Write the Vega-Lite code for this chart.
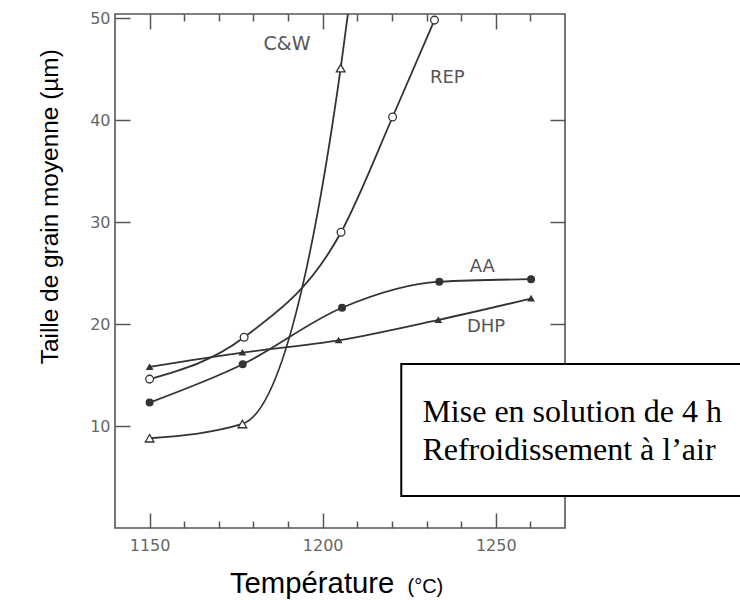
{
  "$schema": "https://vega.github.io/schema/vega-lite/v6.json",
  "width": 450,
  "height": 514,
  "autosize": {"type": "none"},
  "padding": {"left": 115, "top": 14, "right": 175, "bottom": 72},
  "background": "white",
  "config": {
    "view": {"stroke": "#555555", "strokeWidth": 1.6},
    "axis": {"domain": false, "grid": false}
  },
  "datasets": {
    "courbes": [
      {"serie": "C&W", "temperature": 1150, "taille": 8.8, "mesure": true},
      {"serie": "C&W", "temperature": 1176.8, "taille": 10.2, "mesure": true},
      {"serie": "C&W", "temperature": 1205.2, "taille": 45.1, "mesure": true},
      {"serie": "C&W", "temperature": 1208.3, "taille": 53, "mesure": false},
      {"serie": "REP", "temperature": 1150, "taille": 14.6, "mesure": true},
      {"serie": "REP", "temperature": 1177.3, "taille": 18.7, "mesure": true},
      {"serie": "REP", "temperature": 1205.3, "taille": 29, "mesure": true},
      {"serie": "REP", "temperature": 1220.2, "taille": 40.3, "mesure": true},
      {"serie": "REP", "temperature": 1232.3, "taille": 49.8, "mesure": true},
      {"serie": "AA", "temperature": 1150, "taille": 12.3, "mesure": true},
      {"serie": "AA", "temperature": 1176.9, "taille": 16.05, "mesure": true},
      {"serie": "AA", "temperature": 1205.6, "taille": 21.6, "mesure": true},
      {"serie": "AA", "temperature": 1233.7, "taille": 24.15, "mesure": true},
      {"serie": "AA", "temperature": 1260.2, "taille": 24.4, "mesure": true},
      {"serie": "DHP", "temperature": 1150, "taille": 15.8, "mesure": true},
      {"serie": "DHP", "temperature": 1176.8, "taille": 17.2, "mesure": true},
      {"serie": "DHP", "temperature": 1204.6, "taille": 18.4, "mesure": true},
      {"serie": "DHP", "temperature": 1233.4, "taille": 20.4, "mesure": true},
      {"serie": "DHP", "temperature": 1260.2, "taille": 22.5, "mesure": true}
    ],
    "unique": [{}]
  },
  "resolve": {"axis": {"x": "independent", "y": "independent"}},
  "layer": [
    {
      "data": {"name": "courbes"},
      "mark": {"type": "line", "interpolate": "monotone", "clip": true, "stroke": "#333333", "strokeWidth": 1.8},
      "encoding": {
        "x": {
          "field": "temperature", "type": "quantitative",
          "scale": {"domain": [1140, 1270], "nice": false, "zero": false},
          "axis": {
            "orient": "bottom", "title": null, "format": "d",
            "values": [1150, 1160, 1170, 1180, 1190, 1200, 1210, 1220, 1230, 1240, 1250, 1260],
            "labelExpr": "datum.value % 50 === 0 ? datum.label : ''",
            "tickSize": {"condition": {"test": "datum.value % 50 === 0", "value": -15}, "value": -7},
            "tickColor": "#555555", "tickWidth": 1.5,
            "labelPadding": 24, "labelFont": "DejaVu Sans", "labelFontSize": 16, "labelColor": "#666666"
          }
        },
        "y": {
          "field": "taille", "type": "quantitative",
          "scale": {"domain": [0, 50.4], "nice": false, "zero": false},
          "axis": {
            "orient": "left", "title": null,
            "values": [10, 20, 30, 40, 50],
            "tickSize": -15, "tickColor": "#555555", "tickWidth": 1.5,
            "labelPadding": 20, "labelFont": "DejaVu Sans", "labelFontSize": 16, "labelColor": "#666666"
          }
        },
        "detail": {"field": "serie"}
      }
    },
    {
      "data": {"name": "courbes"},
      "transform": [{"filter": "datum.mesure"}],
      "mark": {"type": "point", "filled": true, "stroke": "#333333", "strokeWidth": 1.3, "opacity": 1},
      "encoding": {
        "x": {
          "field": "temperature", "type": "quantitative",
          "axis": {
            "orient": "top", "title": null, "labels": false,
            "values": [1150, 1160, 1170, 1180, 1190, 1200, 1210, 1220, 1230, 1240, 1250, 1260],
            "tickSize": {"condition": {"test": "datum.value % 50 === 0", "value": -15}, "value": -7},
            "tickColor": "#555555", "tickWidth": 1.5
          }
        },
        "y": {
          "field": "taille", "type": "quantitative",
          "axis": {
            "orient": "right", "title": null, "labels": false,
            "values": [20, 30, 40],
            "tickSize": -15, "tickColor": "#555555", "tickWidth": 1.5
          }
        },
        "shape": {"field": "serie", "type": "nominal", "legend": null,
          "scale": {"domain": ["C&W", "REP", "AA", "DHP"], "range": ["triangle-up", "circle", "circle", "triangle-up"]}},
        "fill": {"field": "serie", "type": "nominal", "legend": null,
          "scale": {"domain": ["C&W", "REP", "AA", "DHP"], "range": ["#ffffff", "#ffffff", "#333333", "#333333"]}},
        "size": {"field": "serie", "type": "nominal", "legend": null,
          "scale": {"domain": ["C&W", "REP", "AA", "DHP"], "range": [75, 30, 30, 55]}}
      }
    },
    {
      "data": {"name": "unique"},
      "mark": {"type": "text", "text": "C&W", "font": "DejaVu Sans", "fontSize": 19, "fill": "#555555", "align": "center", "baseline": "middle"},
      "encoding": {"x": {"datum": 1189.7, "type": "quantitative", "axis": null}, "y": {"datum": 47.5, "type": "quantitative", "axis": null}}
    },
    {
      "data": {"name": "unique"},
      "mark": {"type": "text", "text": "REP", "font": "DejaVu Sans", "fontSize": 18, "fill": "#555555", "align": "center", "baseline": "middle"},
      "encoding": {"x": {"datum": 1236, "type": "quantitative", "axis": null}, "y": {"datum": 44.1, "type": "quantitative", "axis": null}}
    },
    {
      "data": {"name": "unique"},
      "mark": {"type": "text", "text": "AA", "font": "DejaVu Sans", "fontSize": 18, "fill": "#555555", "align": "center", "baseline": "middle"},
      "encoding": {"x": {"datum": 1246.1, "type": "quantitative", "axis": null}, "y": {"datum": 25.6, "type": "quantitative", "axis": null}}
    },
    {
      "data": {"name": "unique"},
      "mark": {"type": "text", "text": "DHP", "font": "DejaVu Sans", "fontSize": 18, "fill": "#555555", "align": "center", "baseline": "middle"},
      "encoding": {"x": {"datum": 1247.2, "type": "quantitative", "axis": null}, "y": {"datum": 19.7, "type": "quantitative", "axis": null}}
    },
    {
      "data": {"name": "unique"},
      "mark": {"type": "rect", "fill": "#ffffff", "stroke": "#000000", "strokeWidth": 2, "clip": false},
      "encoding": {
        "x": {"datum": 1222.7, "type": "quantitative", "axis": null},
        "x2": {"datum": 1330},
        "y": {"datum": 16.08, "type": "quantitative", "axis": null},
        "y2": {"datum": 3.14}
      }
    },
    {
      "data": {"name": "unique"},
      "mark": {"type": "text", "text": "Mise en solution de 4 h", "font": "Liberation Serif", "fontSize": 32, "fill": "#000000", "align": "left", "baseline": "alphabetic"},
      "encoding": {"x": {"datum": 1228.8, "type": "quantitative", "axis": null}, "y": {"datum": 10.42, "type": "quantitative", "axis": null}}
    },
    {
      "data": {"name": "unique"},
      "mark": {"type": "text", "text": "Refroidissement à l’air", "font": "Liberation Serif", "fontSize": 32, "fill": "#000000", "align": "left", "baseline": "alphabetic"},
      "encoding": {"x": {"datum": 1228.8, "type": "quantitative", "axis": null}, "y": {"datum": 6.67, "type": "quantitative", "axis": null}}
    },
    {
      "data": {"name": "unique"},
      "mark": {"type": "text", "text": "Température", "font": "Liberation Sans", "fontSize": 29.3, "fill": "#000000", "align": "left", "baseline": "alphabetic"},
      "encoding": {"x": {"datum": 1173.2, "type": "quantitative", "axis": null}, "y": {"datum": -6.37, "type": "quantitative", "axis": null}}
    },
    {
      "data": {"name": "unique"},
      "mark": {"type": "text", "text": "(°C)", "font": "Liberation Sans", "fontSize": 20, "fill": "#000000", "align": "left", "baseline": "alphabetic"},
      "encoding": {"x": {"datum": 1224.5, "type": "quantitative", "axis": null}, "y": {"datum": -6.37, "type": "quantitative", "axis": null}}
    },
    {
      "data": {"name": "unique"},
      "mark": {"type": "text", "text": "Taille de grain moyenne (µm)", "font": "Liberation Sans", "fontSize": 24.4, "fill": "#000000", "align": "center", "baseline": "alphabetic", "angle": 270},
      "encoding": {"x": {"datum": 1123.5, "type": "quantitative", "axis": null}, "y": {"datum": 31.5, "type": "quantitative", "axis": null}}
    }
  ]
}
